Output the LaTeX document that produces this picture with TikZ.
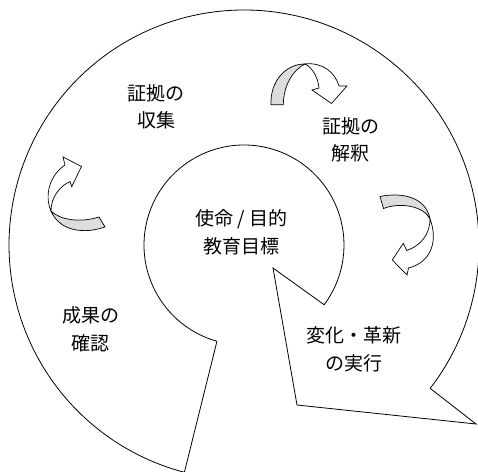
\documentclass[tikz,border=0pt]{standalone}
\usepackage{fontspec}
\setmainfont{Noto Sans CJK JP}
\usetikzlibrary{calc}
\definecolor{ribbongray}{RGB}{221,221,221}
\tikzset{
  shapeline/.style={draw=black, line width=0.8pt, line join=miter},
  ribbonback/.style={draw=black, line width=0.7pt, fill=ribbongray, line join=miter},
  ribbonfront/.style={draw=black, line width=0.7pt, fill=white, line join=miter},
  lbl/.style={align=center, inner sep=0pt, font=\fontsize{19}{27.5}\selectfont}
}
\begin{document}
\begin{tikzpicture}[x=1pt, y=1pt]
\useasboundingbox (0,0) rectangle (478,471);
\begin{scope}[shift={(0,471)}, yscale=-1]
  \coordinate (C) at (244,245);
  % main spiral shape
  \draw[shapeline] ($(C)+(104.7:235)$) -- ($(C)+(105.7:100)$)
     arc[start angle=105.7, end angle=396.7, radius=100]
     -- (273,268) -- (297,405) -- (476,424) -- ($(C)+(37.6:235)$)
     arc[start angle=37.6, end angle=-255.3, radius=235] -- cycle;

  % top arrow
  \draw[ribbonback] (271,104.7) .. controls (270,82) and (285,64) .. (305,64)
     .. controls (293,70) and (283.5,85) .. (283.3,104.7) -- cycle;
  \draw[ribbonfront] (305,64) .. controls (322,62) and (335,72) .. (339,86)
     -- (347,86) -- (331.5,103.5) -- (312,90) -- (319,88)
     .. controls (318,78) and (313,68) .. (305,64) -- cycle;

  % left arrow
  \draw[ribbonback] (51,211) .. controls (60,220) and (80,223) .. (99,217)
     -- (105,227) .. controls (85,234) and (60,232) .. (51,211) -- cycle;
  \draw[ribbonfront] (51,211) .. controls (44,195) and (50,175) .. (65,165)
     -- (63,157) -- (81.5,166.5) -- (71.7,186.7) -- (70,181.5)
     .. controls (60,186) and (51,197) .. (51,211) -- cycle;

  % right arrow
  \draw[ribbonback] (380,196.5) .. controls (402,192) and (426,197) .. (430,219)
     .. controls (424,206) and (400,202) .. (383.5,208.5) -- cycle;
  \draw[ribbonfront] (430,219) .. controls (438,240) and (432,262) .. (408.5,268)
     -- (407,275) -- (392.3,260) -- (403.3,243.3) -- (406.7,250.5)
     .. controls (420,246) and (430,235) .. (430,219) -- cycle;

  % labels
  \node[lbl] (collect) at (156,107) {証拠の\\収集};
  \node[lbl] (interpret) at (350.5,140) {証拠の\\解釈};
  \node[lbl] (mission) at (241.5,232.5) {使命 / 目的\\教育目標};
  \node[lbl] (confirm) at (90.5,329.5) {成果の\\確認};
  \node[lbl] (change) at (354,349.5) {変化・革新\\の実行};
\end{scope}
\end{tikzpicture}
\end{document}
